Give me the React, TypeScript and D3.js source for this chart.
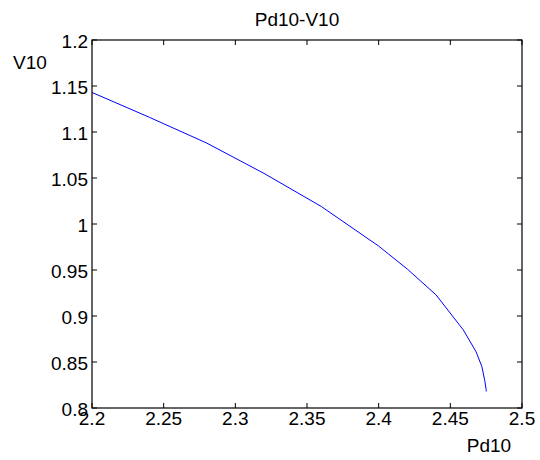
import React from "react";
import * as d3 from "d3";

const pd10: number[] = [2.2, 2.24, 2.28, 2.32, 2.36, 2.4, 2.42, 2.44, 2.459, 2.468, 2.472, 2.474, 2.475, 2.475];
const v10: number[] = [1.143, 1.116, 1.088, 1.055, 1.019, 0.976, 0.951, 0.923, 0.885, 0.861, 0.845, 0.83, 0.82, 0.818];
const xTicks: number[] = [2.2, 2.25, 2.3, 2.35, 2.4, 2.45, 2.5];
const yTicks: number[] = [0.8, 0.85, 0.9, 0.95, 1, 1.05, 1.1, 1.15, 1.2];
const title = "Pd10-V10";
const xLabel = "Pd10";
const yLabel = "V10";

export default function App() {
  const W = 540, H = 460;
  const left = 92, right = 522, top = 40, bottom = 408;
  const x = d3.scaleLinear().domain([2.2, 2.5]).range([left, right]);
  const y = d3.scaleLinear().domain([0.8, 1.2]).range([bottom, top]);
  const line = d3
    .line<number>()
    .x((_, i) => x(pd10[i]))
    .y((d) => y(d));
  const font = "Arial, 'Liberation Sans', Helvetica, sans-serif";
  const fs = 19;
  const tl = 5;
  return (
    <svg
      width={W}
      height={H}
      style={{ position: "absolute", left: 0, top: 0, background: "#fff" }}
      fontFamily={font}
    >
      <rect x={0} y={0} width={W} height={H} fill="#fff" />
      <path d={line(v10) || ""} fill="none" stroke="#0000ff" strokeWidth={1} />
      <rect x={left} y={top} width={right - left} height={bottom - top} fill="none" stroke="#000" strokeWidth={1.2} />
      {xTicks.map((t) => (
        <g key={"x" + t}>
          <line x1={x(t)} x2={x(t)} y1={bottom} y2={bottom - tl} stroke="#000" />
          <line x1={x(t)} x2={x(t)} y1={top} y2={top + tl} stroke="#000" />
          <text x={x(t)} y={425} fontSize={fs} textAnchor="middle" fill="#000">
            {String(t)}
          </text>
        </g>
      ))}
      {yTicks.map((t) => (
        <g key={"y" + t}>
          <line x1={left} x2={left + tl} y1={y(t)} y2={y(t)} stroke="#000" />
          <line x1={right} x2={right - tl} y1={y(t)} y2={y(t)} stroke="#000" />
          <text x={88} y={y(t) + 8} fontSize={fs} textAnchor="end" fill="#000">
            {String(t)}
          </text>
        </g>
      ))}
      <text x={297} y={26} fontSize={fs} textAnchor="middle" fill="#000">
        {title}
      </text>
      <text x={489} y={452} fontSize={fs} textAnchor="middle" fill="#000">
        {xLabel}
      </text>
      <text x={30} y={69} fontSize={fs} textAnchor="middle" fill="#000">
        {yLabel}
      </text>
    </svg>
  );
}
